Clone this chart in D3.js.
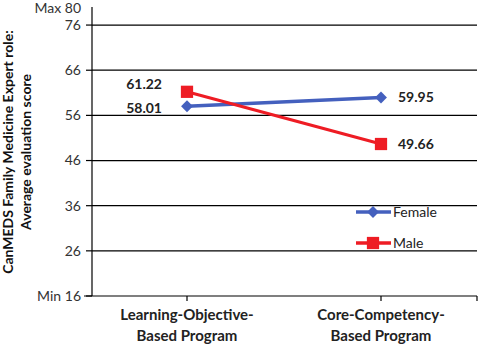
<!DOCTYPE html>
<html><head><meta charset="utf-8">
<script src="https://cdn.jsdelivr.net/npm/d3@7"></script>
<style>body{margin:0;background:#fff}svg{display:block}text{font-family:Lato,"Open Sans",sans-serif}</style>
</head><body>
<svg id="c" width="478" height="348"></svg>
<script>
const categories = [["Learning-Objective-","Based Program"],["Core-Competency-","Based Program"]];
const female = [58.01, 59.95];
const male = [61.22, 49.66];
const yTicks = [16, 26, 36, 46, 56, 66, 76, 80];
const yTickLabels = ["Min 16","26","36","46","56","66","76","Max 80"];
const seriesNames = ["Female","Male"];
const yTitle = ["CanMEDS  Family Medicine  Expert role:","Average evaluation score"];

const svg = d3.select("#c");
const x = d3.scalePoint().domain(d3.range(categories.length)).range([187, 381]);
const y = d3.scaleLinear().domain([16, 80]).range([296, 7]);
const x0 = 92, x1 = 477;

svg.append("g").selectAll("line").data(yTicks.filter(d => d > 16 && d < 80)).join("line")
  .attr("x1", x0).attr("x2", x1).attr("y1", d => y(d)).attr("y2", d => y(d))
  .attr("stroke", "#000").attr("stroke-width", 1.2);

svg.append("line").attr("x1", x0).attr("x2", x0).attr("y1", y(80)).attr("y2", y(16)).attr("stroke", "#000").attr("stroke-width", 1.2);
svg.append("g").selectAll("line").data(yTicks.filter(d => d < 80)).join("line")
  .attr("x1", x0 - 6).attr("x2", x0).attr("y1", d => y(d)).attr("y2", d => y(d)).attr("stroke", "#000").attr("stroke-width", 1.2);
svg.append("g").selectAll("text").data(yTicks).join("text")
  .attr("x", 81).attr("y", d => d === 80 ? y(d) + 1.5 : y(d)).attr("dy", "0.35em").attr("text-anchor", "end")
  .attr("font-size", 14).attr("fill", "#333")
  .text((d, i) => yTickLabels[i]);

svg.append("line").attr("x1", 84).attr("x2", x1).attr("y1", y(16)).attr("y2", y(16)).attr("stroke", "#000").attr("stroke-width", 1.2);
svg.append("g").selectAll("line").data([...categories.map((c, i) => x(i)), x1]).join("line")
  .attr("x1", d => d).attr("x2", d => d).attr("y1", y(16)).attr("y2", y(16) + 5).attr("stroke", "#000").attr("stroke-width", 1.2);
categories.forEach((c, i) => {
  const t = svg.append("text").attr("x", x(i)).attr("y", 320).attr("text-anchor", "middle")
    .attr("font-size", 15).attr("font-weight", "bold").attr("fill", "#222");
  c.forEach((line, j) => t.append("tspan").attr("x", x(i)).attr("dy", j ? 21 : 0).text(line));
});

const yt = svg.append("text").attr("transform", "translate(13,152) rotate(-90)").attr("text-anchor", "middle")
  .attr("font-size", 14).attr("font-weight", "bold").attr("fill", "#111");
yTitle.forEach((l, j) => yt.append("tspan").attr("x", 0).attr("dy", j ? 18 : 0).text(l));

const line = d3.line().x((d, i) => x(i)).y(d => y(d));
const blue = "#4460BE", red = "#EE1C24";
svg.append("path").attr("d", line(female)).attr("fill", "none").attr("stroke", blue).attr("stroke-width", 3.5);
svg.append("path").attr("d", line(male)).attr("fill", "none").attr("stroke", red).attr("stroke-width", 3);
const diamond = d3.symbol().type(d3.symbolDiamond2).size(90);
const square = d3.symbol().type(d3.symbolSquare).size(150);
female.forEach((v, i) => svg.append("path").attr("d", diamond()).attr("transform", `translate(${x(i)},${y(v)})`).attr("fill", blue));
male.forEach((v, i) => svg.append("path").attr("d", square()).attr("transform", `translate(${x(i)},${y(v)})`).attr("fill", red));

const lab = (txt, xx, yy, anchor) => svg.append("text").attr("x", xx).attr("y", yy).attr("dy", "0.35em")
  .attr("text-anchor", anchor).attr("font-size", 14).attr("font-weight", "bold").attr("fill", "#222").text(txt);
lab(male[0].toFixed(2), 162, y(male[0]) - 8, "end");
lab(female[0].toFixed(2), 162, y(female[0]) + 2, "end");
lab(female[1].toFixed(2), 398, y(female[1]), "start");
lab(male[1].toFixed(2), 398, y(male[1]), "start");

const leg = [[blue, diamond, 212], [red, square, 243]];
leg.forEach(([col, sym, ly], i) => {
  svg.append("line").attr("x1", 356).attr("x2", 391).attr("y1", ly).attr("y2", ly).attr("stroke", col).attr("stroke-width", 3.5);
  svg.append("path").attr("d", sym()).attr("transform", `translate(373,${ly})`).attr("fill", col);
  svg.append("text").attr("x", 393).attr("y", ly).attr("dy", "0.35em").attr("font-size", 14).attr("fill", "#222").text(seriesNames[i]);
});
</script>
</body></html>
